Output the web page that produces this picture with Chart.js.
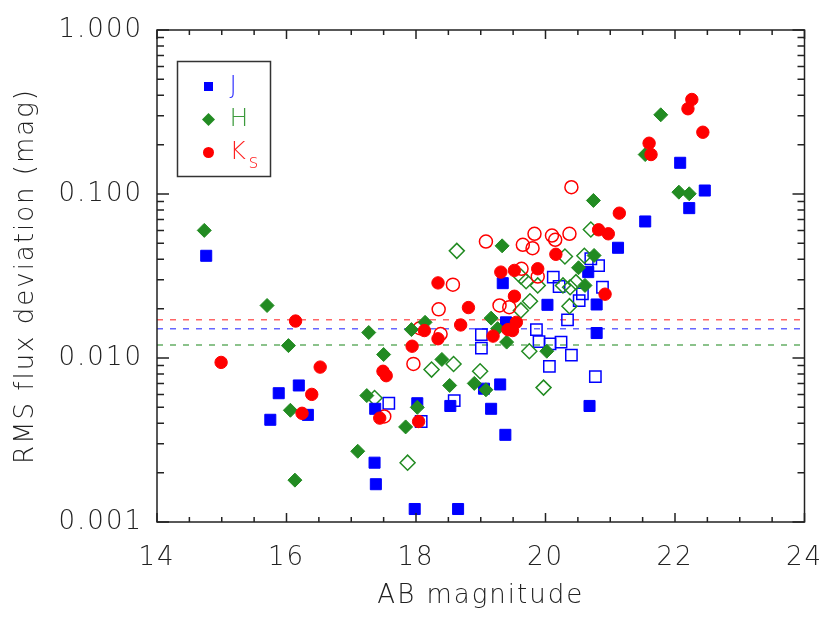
<!DOCTYPE html>
<html lang="en">
<head>
    <meta charset="UTF-8">
    <title>RMS flux deviation</title>
    <script src="https://cdn.jsdelivr.net/npm/chart.js"></script>
    <style>
        body { margin: 0; background: #fff; }
        #wrap { width: 830px; height: 625px; }
    </style>
</head>
<body>
    <div id="wrap"><canvas id="rmsChart" width="830" height="625"></canvas></div>
    <script>
    // J band (filled = good, open = flagged)
    const jMag = [14.76, 15.88, 16.19, 16.33, 15.75, 17.37, 17.36, 17.38, 18.02, 18.53, 19.05, 19.16, 19.38, 17.98, 18.65, 19.30, 19.34, 19.39, 20.03, 20.79, 20.66, 20.79, 21.12, 20.68, 21.54, 22.08, 22.46, 22.22];
    const jRms = [0.042, 0.0061, 0.0068, 0.0045, 0.0042, 0.0049, 0.0023, 0.0017, 0.0053, 0.0051, 0.0065, 0.0049, 0.0034, 0.0012, 0.0012, 0.0069, 0.0286, 0.0165, 0.0211, 0.0212, 0.0334, 0.0142, 0.047, 0.0051, 0.068, 0.155, 0.105, 0.082];
    const jOpenMag = [17.58, 18.08, 18.59, 19.01, 19.01, 19.86, 19.90, 20.07, 20.24, 20.40, 20.06, 20.77, 20.34, 20.12, 20.21, 20.70, 20.82, 20.88, 20.57, 20.52];
    const jOpenRms = [0.0053, 0.0041, 0.0055, 0.0139, 0.0115, 0.0149, 0.0126, 0.0122, 0.0125, 0.0104, 0.0089, 0.0077, 0.0171, 0.0311, 0.0273, 0.0403, 0.0366, 0.027, 0.0246, 0.0224];

    // H band
    const hMag = [14.73, 15.70, 16.03, 16.06, 16.13, 17.10, 17.27, 17.50, 17.24, 17.84, 18.02, 17.93, 18.14, 18.40, 18.52, 18.90, 19.08, 19.16, 19.26, 19.40, 19.33, 20.02, 20.51, 20.61, 20.75, 20.74, 21.54, 21.78, 22.06, 22.22];
    const hRms = [0.060, 0.0209, 0.0119, 0.0048, 0.0018, 0.0027, 0.0143, 0.0105, 0.0059, 0.0038, 0.0050, 0.0149, 0.0165, 0.0098, 0.0068, 0.0070, 0.0064, 0.0175, 0.0151, 0.0125, 0.0483, 0.0110, 0.0355, 0.0277, 0.0422, 0.0913, 0.174, 0.304, 0.1026, 0.1003];
    const hOpenMag = [17.36, 17.87, 18.24, 18.58, 18.99, 18.63, 19.62, 19.70, 19.88, 19.76, 19.62, 19.75, 19.97, 20.27, 20.38, 20.47, 20.30, 20.60, 20.70, 20.37];
    const hOpenRms = [0.0057, 0.0023, 0.0085, 0.0092, 0.0083, 0.045, 0.0314, 0.0294, 0.0277, 0.0222, 0.0195, 0.0110, 0.0066, 0.0277, 0.0270, 0.0290, 0.0416, 0.042, 0.0607, 0.0207];

    // Ks band
    const kMag = [14.99, 16.14, 16.52, 16.39, 16.24, 17.49, 17.54, 17.44, 18.04, 17.94, 18.13, 18.34, 18.34, 18.69, 18.81, 19.19, 19.42, 19.49, 19.55, 19.52, 19.31, 19.52, 19.88, 20.16, 20.92, 20.82, 20.97, 21.14, 21.60, 21.63, 22.26, 22.20, 22.43];
    const kRms = [0.0094, 0.0168, 0.0088, 0.0060, 0.0046, 0.0083, 0.0078, 0.0043, 0.0041, 0.0118, 0.0147, 0.0131, 0.0287, 0.0159, 0.0203, 0.0136, 0.0149, 0.0147, 0.0165, 0.0238, 0.0334, 0.0342, 0.035, 0.0429, 0.0245, 0.0605, 0.0572, 0.0764, 0.204, 0.174, 0.377, 0.331, 0.238];
    const kOpenMag = [17.51, 17.96, 18.06, 18.38, 18.35, 18.57, 19.08, 19.29, 19.44, 19.63, 19.88, 19.65, 19.80, 19.83, 20.10, 20.15, 20.37, 20.40];
    const kOpenRms = [0.0044, 0.0092, 0.0152, 0.0140, 0.0198, 0.0280, 0.0513, 0.0209, 0.0204, 0.035, 0.0314, 0.049, 0.0467, 0.0572, 0.0558, 0.0526, 0.0572, 0.110];

    // dashed threshold levels
    const limitMag = [14, 24];
    const jLimit = 0.0151;
    const hLimit = 0.0120;
    const kLimit = 0.0171;

    const yDecades = [0.001, 0.01, 0.1, 1];

    const BLUE = '#0000ff', GREEN = '#228b22', RED = '#ff0000';

    function pts(xs, ys) {
        return xs.map((x, i) => ({ x: x, y: ys[i] }));
    }
    function limitLine(v, color) {
        return {
            type: 'line',
            data: limitMag.map(x => ({ x: x, y: v })),
            borderColor: color,
            borderWidth: 1.5,
            borderDash: [6, 7],
            pointRadius: 0,
            fill: false,
            order: 20
        };
    }
    function markers(xs, ys, color, style, r, open, order) {
        return {
            data: pts(xs, ys),
            pointStyle: style,
            pointRadius: r,
            pointBackgroundColor: open ? 'rgba(0,0,0,0)' : color,
            pointBorderColor: color,
            pointBorderWidth: open ? 1.5 : 1,
            order: order
        };
    }

    // the axis font is wide and thin, so space the letters out a little
    const spacingPlugin = {
        id: 'spacing',
        beforeDraw(chart) { chart.ctx.letterSpacing = '2px'; }
    };

    // frame, inward ticks and legend box
    const framePlugin = {
        id: 'frame',
        afterDraw(chart) {
            const { ctx, chartArea: a, scales } = chart;
            ctx.save();
            ctx.strokeStyle = '#222';
            ctx.lineWidth = 1.5;
            ctx.strokeRect(a.left, a.top, a.right - a.left, a.bottom - a.top);
            ctx.beginPath();
            scales.x.ticks.forEach(t => {
                const px = scales.x.getPixelForValue(t.value);
                const len = t.value % 2 === 0 ? 9 : 5;
                ctx.moveTo(px, a.bottom); ctx.lineTo(px, a.bottom - len);
                ctx.moveTo(px, a.top); ctx.lineTo(px, a.top + len);
            });
            scales.y.ticks.forEach(t => {
                const py = scales.y.getPixelForValue(t.value);
                const len = yDecades.includes(t.value) ? 12 : 7;
                ctx.moveTo(a.left, py); ctx.lineTo(a.left + len, py);
                ctx.moveTo(a.right, py); ctx.lineTo(a.right - len, py);
            });
            ctx.stroke();

            // legend
            const lx = a.left + 20.5, ly = a.top + 31.5;
            ctx.lineWidth = 1.5;
            ctx.strokeStyle = '#333';
            ctx.strokeRect(lx, ly, 93, 115);
            const mx = lx + 31;
            ctx.fillStyle = BLUE;
            ctx.fillRect(mx - 4.5, ly + 20.5, 9, 9);
            ctx.fillStyle = GREEN;
            ctx.beginPath();
            ctx.moveTo(mx, ly + 51.5); ctx.lineTo(mx + 6.5, ly + 58);
            ctx.lineTo(mx, ly + 64.5); ctx.lineTo(mx - 6.5, ly + 58);
            ctx.closePath(); ctx.fill();
            ctx.fillStyle = RED;
            ctx.beginPath();
            ctx.arc(mx, ly + 91, 5.5, 0, Math.PI * 2);
            ctx.fill();

            ctx.letterSpacing = '0px';
            ctx.textBaseline = 'middle';
            ctx.textAlign = 'left';
            ctx.font = '200 25px "DejaVu Sans"';
            ctx.fillStyle = '#3535ff';
            ctx.fillText('J', lx + 52, ly + 25);
            ctx.fillStyle = '#3c9a3c';
            ctx.fillText('H', lx + 52, ly + 58);
            ctx.fillStyle = '#ff2020';
            ctx.fillText('K', lx + 52, ly + 91);
            ctx.font = '200 19px "DejaVu Sans"';
            ctx.fillText('s', lx + 71, ly + 102);
            ctx.restore();
        }
    };

    Chart.defaults.font.family = '"DejaVu Sans", sans-serif';
    Chart.defaults.font.weight = 200;
    Chart.defaults.color = '#222';

    const ctx = document.getElementById('rmsChart').getContext('2d');
    const rmsChart = new Chart(ctx, {
        type: 'scatter',
        data: {
            datasets: [
                limitLine(kLimit, 'rgba(255,0,0,0.6)'),
                limitLine(jLimit, 'rgba(0,0,255,0.6)'),
                limitLine(hLimit, 'rgba(34,139,34,0.7)'),
                markers(jOpenMag, jOpenRms, BLUE, 'rect', 8, true, 12),
                markers(hOpenMag, hOpenRms, GREEN, 'rectRot', 7.5, true, 11),
                markers(kOpenMag, kOpenRms, RED, 'circle', 6.5, true, 10),
                markers(jMag, jRms, BLUE, 'rect', 7.8, false, 6),
                markers(hMag, hRms, GREEN, 'rectRot', 7, false, 5),
                markers(kMag, kRms, RED, 'circle', 6.2, false, 4)
            ]
        },
        options: {
            responsive: false,
            animation: false,
            devicePixelRatio: 1,
            layout: { padding: { left: 0, right: 25.5, top: 30, bottom: 0 } },
            plugins: {
                legend: { display: false },
                tooltip: { enabled: false }
            },
            scales: {
                x: {
                    type: 'linear',
                    min: 14,
                    max: 24,
                    grid: { display: false, drawTicks: false },
                    border: { display: false },
                    ticks: {
                        stepSize: 0.5,
                        autoSkip: false,
                        maxRotation: 0,
                        padding: 21,
                        font: { size: 26 },
                        callback: v => (v % 2 === 0 ? String(v) : '')
                    },
                    title: {
                        display: true,
                        text: 'AB magnitude',
                        font: { size: 26 },
                        padding: { top: 4, bottom: 13 }
                    },
                    afterFit: s => {
                        s.height = 103;
                        s.paddingLeft = 0;
                        s.paddingRight = 0;
                    }
                },
                y: {
                    type: 'logarithmic',
                    min: 0.001,
                    max: 1,
                    grid: { display: false, drawTicks: false },
                    border: { display: false },
                    afterBuildTicks: s => {
                        const t = [];
                        for (let d = 0.001; d < 0.9; d *= 10) {
                            for (let k = 1; k < 10; k++) t.push({ value: +(k * d).toPrecision(3) });
                        }
                        t.push({ value: 1 });
                        s.ticks = t;
                    },
                    ticks: {
                        autoSkip: false,
                        padding: 14,
                        font: { size: 26 },
                        callback: v => (yDecades.includes(v) ? v.toFixed(3) : '')
                    },
                    title: {
                        display: true,
                        text: 'RMS flux deviation (mag)',
                        font: { size: 26 },
                        padding: { top: 11, bottom: 0 }
                    },
                    afterFit: s => { s.width = 157; }
                }
            }
        },
        plugins: [spacingPlugin, framePlugin]
    });
    </script>
</body>
</html>
